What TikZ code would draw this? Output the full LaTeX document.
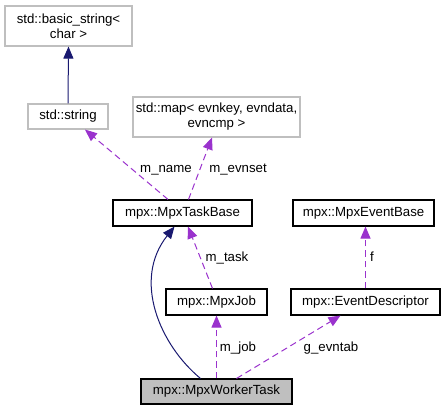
\documentclass[tikz,border=0pt]{standalone}
\usepackage{fontspec}
\setmainfont{Liberation Sans}
\usetikzlibrary{arrows.meta,calc}
\definecolor{edgepurple}{HTML}{9A32CD}
\definecolor{edgenavy}{HTML}{191970}
\definecolor{boxgray}{HTML}{BFBFBF}
\begin{document}
\begin{tikzpicture}[x=1bp,y=-1bp,
  font=\fontsize{13.3}{15}\selectfont,
  cls/.style={draw=black,line width=1.1bp,rectangle,inner sep=0pt,align=center},
  ext/.style={draw=boxgray,line width=1.1bp,rectangle,inner sep=0pt,align=center},
  usage/.style={draw=edgepurple,line width=1bp,dash pattern=on 6.5bp off 4bp,
    -{Triangle[length=12bp,width=10bp,fill=edgepurple]}},
  inherit/.style={draw=edgenavy,line width=1bp,
    -{Triangle[length=12bp,width=10bp,fill=edgenavy]}},
  lbl/.style={anchor=base,inner sep=0pt}]
\useasboundingbox (0,0) rectangle (446,411);
\node[ext,minimum width=127bp,minimum height=40bp] (bs) at (68.5,26) {std::basic\_string<\\char >};
\node[ext,minimum width=80bp,minimum height=25bp] (str) at (68,116.5) {std::string};
\node[ext,minimum width=167bp,minimum height=40bp] (map) at (216.5,117) {std::map< evnkey, evndata,\\evncmp >};
\node[cls,minimum width=139bp,minimum height=26bp] (tb) at (182.5,213) {mpx::MpxTaskBase};
\node[cls,minimum width=141bp,minimum height=26bp] (eb) at (363.5,213) {mpx::MpxEventBase};
\node[cls,minimum width=101bp,minimum height=26bp] (job) at (216.5,302) {mpx::MpxJob};
\node[cls,minimum width=149bp,minimum height=26bp] (ed) at (365.5,302) {mpx::EventDescriptor};
\node[cls,fill=boxgray,minimum width=151bp,minimum height=25bp] (wt) at (216.5,391.5) {mpx::MpxWorkerTask};

\draw[inherit] (str.north) -- (bs.south);
\draw[usage] ([xshift=-14.5bp]tb.north) -- ([xshift=17bp]str.south);
\draw[usage] ([xshift=6bp]tb.north) -- ([xshift=-4.5bp]map.south);
\draw[inherit] ([xshift=-16bp]wt.north) .. controls (160,345) and (132,280) .. ([xshift=-8bp]tb.south);
\draw[usage] ([xshift=-4bp]job.north) -- ([xshift=5.5bp]tb.south);
\draw[usage] (wt.north) -- (job.south);
\draw[usage] ([xshift=20bp]wt.north) -- ([xshift=-25bp]ed.south);
\draw[usage] (ed.north) -- (ed.north |- eb.south);

\node[lbl] (l1) at (166,172) {m\_name};
\node[lbl] (l2) at (238,172) {m\_evnset};
\node[lbl] (l3) at (227,261.5) {m\_task};
\node[lbl] (l4) at (372,261.5) {f};
\node[lbl] (l5) at (238,351) {m\_job};
\node[lbl] (l6) at (331,351) {g\_evntab};
\end{tikzpicture}
\end{document}
